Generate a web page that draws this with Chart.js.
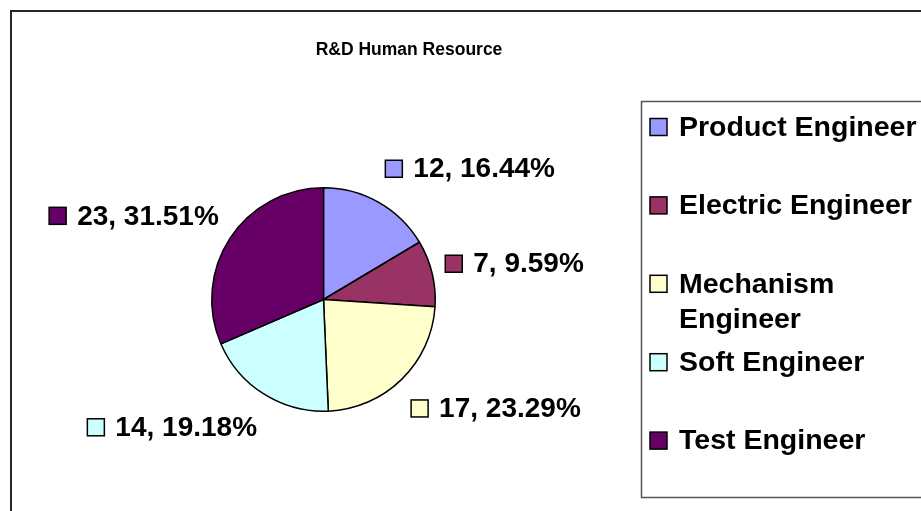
<!DOCTYPE html>
<html>
<head>
<meta charset="utf-8">
<script src="https://cdn.jsdelivr.net/npm/chart.js@4/dist/chart.umd.min.js"></script>
<style>
  html, body { margin: 0; padding: 0; background: #ffffff; }
  #wrap { width: 921px; height: 511px; position: relative; }
</style>
</head>
<body>
<div id="wrap"><canvas id="c" width="921" height="511"></canvas></div>
<script>
// ---- data ----
const chartTitle = "R&D Human Resource";
const categories = ["Product Engineer", "Electric Engineer", "Mechanism Engineer", "Soft Engineer", "Test Engineer"];
const headcount = [12, 7, 17, 14, 23];
const sliceColors = ["#9999FF", "#993366", "#FFFFCC", "#CCFFFF", "#660066"];

const FONT = "'Liberation Sans', Arial, Helvetica, sans-serif";

const total = headcount.reduce((a, b) => a + b, 0);
const labelTexts = headcount.map(v => v + ", " + (v / total * 100).toFixed(2) + "%");

const framePlugin = {
  id: 'frame',
  beforeDraw(chart) {
    const ctx = chart.ctx;
    ctx.save();
    ctx.fillStyle = '#ffffff';
    ctx.fillRect(0, 0, chart.width, chart.height);
    // outer chart border
    ctx.strokeStyle = '#262626';
    ctx.lineWidth = 2;
    ctx.beginPath();
    ctx.moveTo(11, chart.height + 5);
    ctx.lineTo(11, 11);
    ctx.lineTo(chart.width + 5, 11);
    ctx.stroke();
    // title
    ctx.fillStyle = '#000000';
    ctx.font = "bold 17.5px " + FONT;
    ctx.textAlign = 'center';
    ctx.textBaseline = 'middle';
    ctx.fillText(chartTitle, 409, 50);
    ctx.restore();
  },
  afterDraw(chart) {
    const ctx = chart.ctx;
    ctx.save();
    // legend box
    const lx = 641.5, ly = 101.5, lb = 497.5;
    ctx.strokeStyle = '#555555';
    ctx.lineWidth = 1.5;
    ctx.beginPath();
    ctx.moveTo(chart.width + 5, ly);
    ctx.lineTo(lx, ly);
    ctx.lineTo(lx, lb);
    ctx.lineTo(chart.width + 5, lb);
    ctx.stroke();
    // legend items
    ctx.font = "bold 28.5px " + FONT;
    ctx.textAlign = 'left';
    ctx.textBaseline = 'middle';
    const maxW = 245, step = 78.4, lineH = 35, sq = 17;
    categories.forEach((name, i) => {
      const cy = 127 + i * step;
      ctx.fillStyle = sliceColors[i];
      ctx.fillRect(650, cy - sq / 2, sq, sq);
      ctx.strokeStyle = '#000';
      ctx.lineWidth = 1.5;
      ctx.strokeRect(650, cy - sq / 2, sq, sq);
      // wrap text
      const words = name.split(' ');
      const lines = [];
      let cur = '';
      words.forEach(w => {
        const t = cur ? cur + ' ' + w : w;
        if (ctx.measureText(t).width > maxW && cur) { lines.push(cur); cur = w; }
        else cur = t;
      });
      lines.push(cur);
      ctx.fillStyle = '#000';
      lines.forEach((ln, k) => ctx.fillText(ln, 679, cy + 1 + k * lineH));
    });
    ctx.restore();
  },
  afterDatasetsDraw(chart) {
    const ctx = chart.ctx;
    const meta = chart.getDatasetMeta(0);
    ctx.save();
    ctx.font = "bold 28px " + FONT;
    ctx.textBaseline = 'middle';
    ctx.textAlign = 'left';
    const sq = 17, gap = 11, h = 28, gapX = 13.5, gapY = 22.5, kx = 2.5, ky = 1.3;
    meta.data.forEach((arc, i) => {
      const p = arc.getProps(['x', 'y', 'startAngle', 'endAngle', 'outerRadius'], true);
      const mid = (p.startAngle + p.endAngle) / 2;
      const dx = Math.cos(mid), dy = Math.sin(mid);
      const ax = p.x + (p.outerRadius + gapX) * dx;
      const ay = p.y + (p.outerRadius + gapY) * dy;
      const tw = ctx.measureText(labelTexts[i]).width;
      const w = sq + gap + tw;
      const sx = Math.max(-1, Math.min(1, dx * kx));
      const sy = Math.max(-1, Math.min(1, dy * ky));
      const bcx = ax + sx * w / 2;
      const bcy = ay + sy * h / 2;
      const left = bcx - w / 2;
      ctx.fillStyle = sliceColors[i];
      ctx.fillRect(left, bcy - sq / 2, sq, sq);
      ctx.strokeStyle = '#000';
      ctx.lineWidth = 1.5;
      ctx.strokeRect(left, bcy - sq / 2, sq, sq);
      ctx.fillStyle = '#000';
      ctx.fillText(labelTexts[i], left + sq + gap, bcy + 1);
    });
    ctx.restore();
  }
};

new Chart(document.getElementById('c'), {
  type: 'pie',
  data: {
    labels: categories,
    datasets: [{
      data: headcount,
      backgroundColor: sliceColors,
      borderColor: '#000000',
      borderWidth: 1.5
    }]
  },
  options: {
    responsive: false,
    animation: false,
    layout: { padding: { left: 211, top: 187, right: 485, bottom: 99 } },
    plugins: {
      legend: { display: false },
      tooltip: { enabled: false },
      title: { display: false }
    }
  },
  plugins: [framePlugin]
});
</script>
</body>
</html>
